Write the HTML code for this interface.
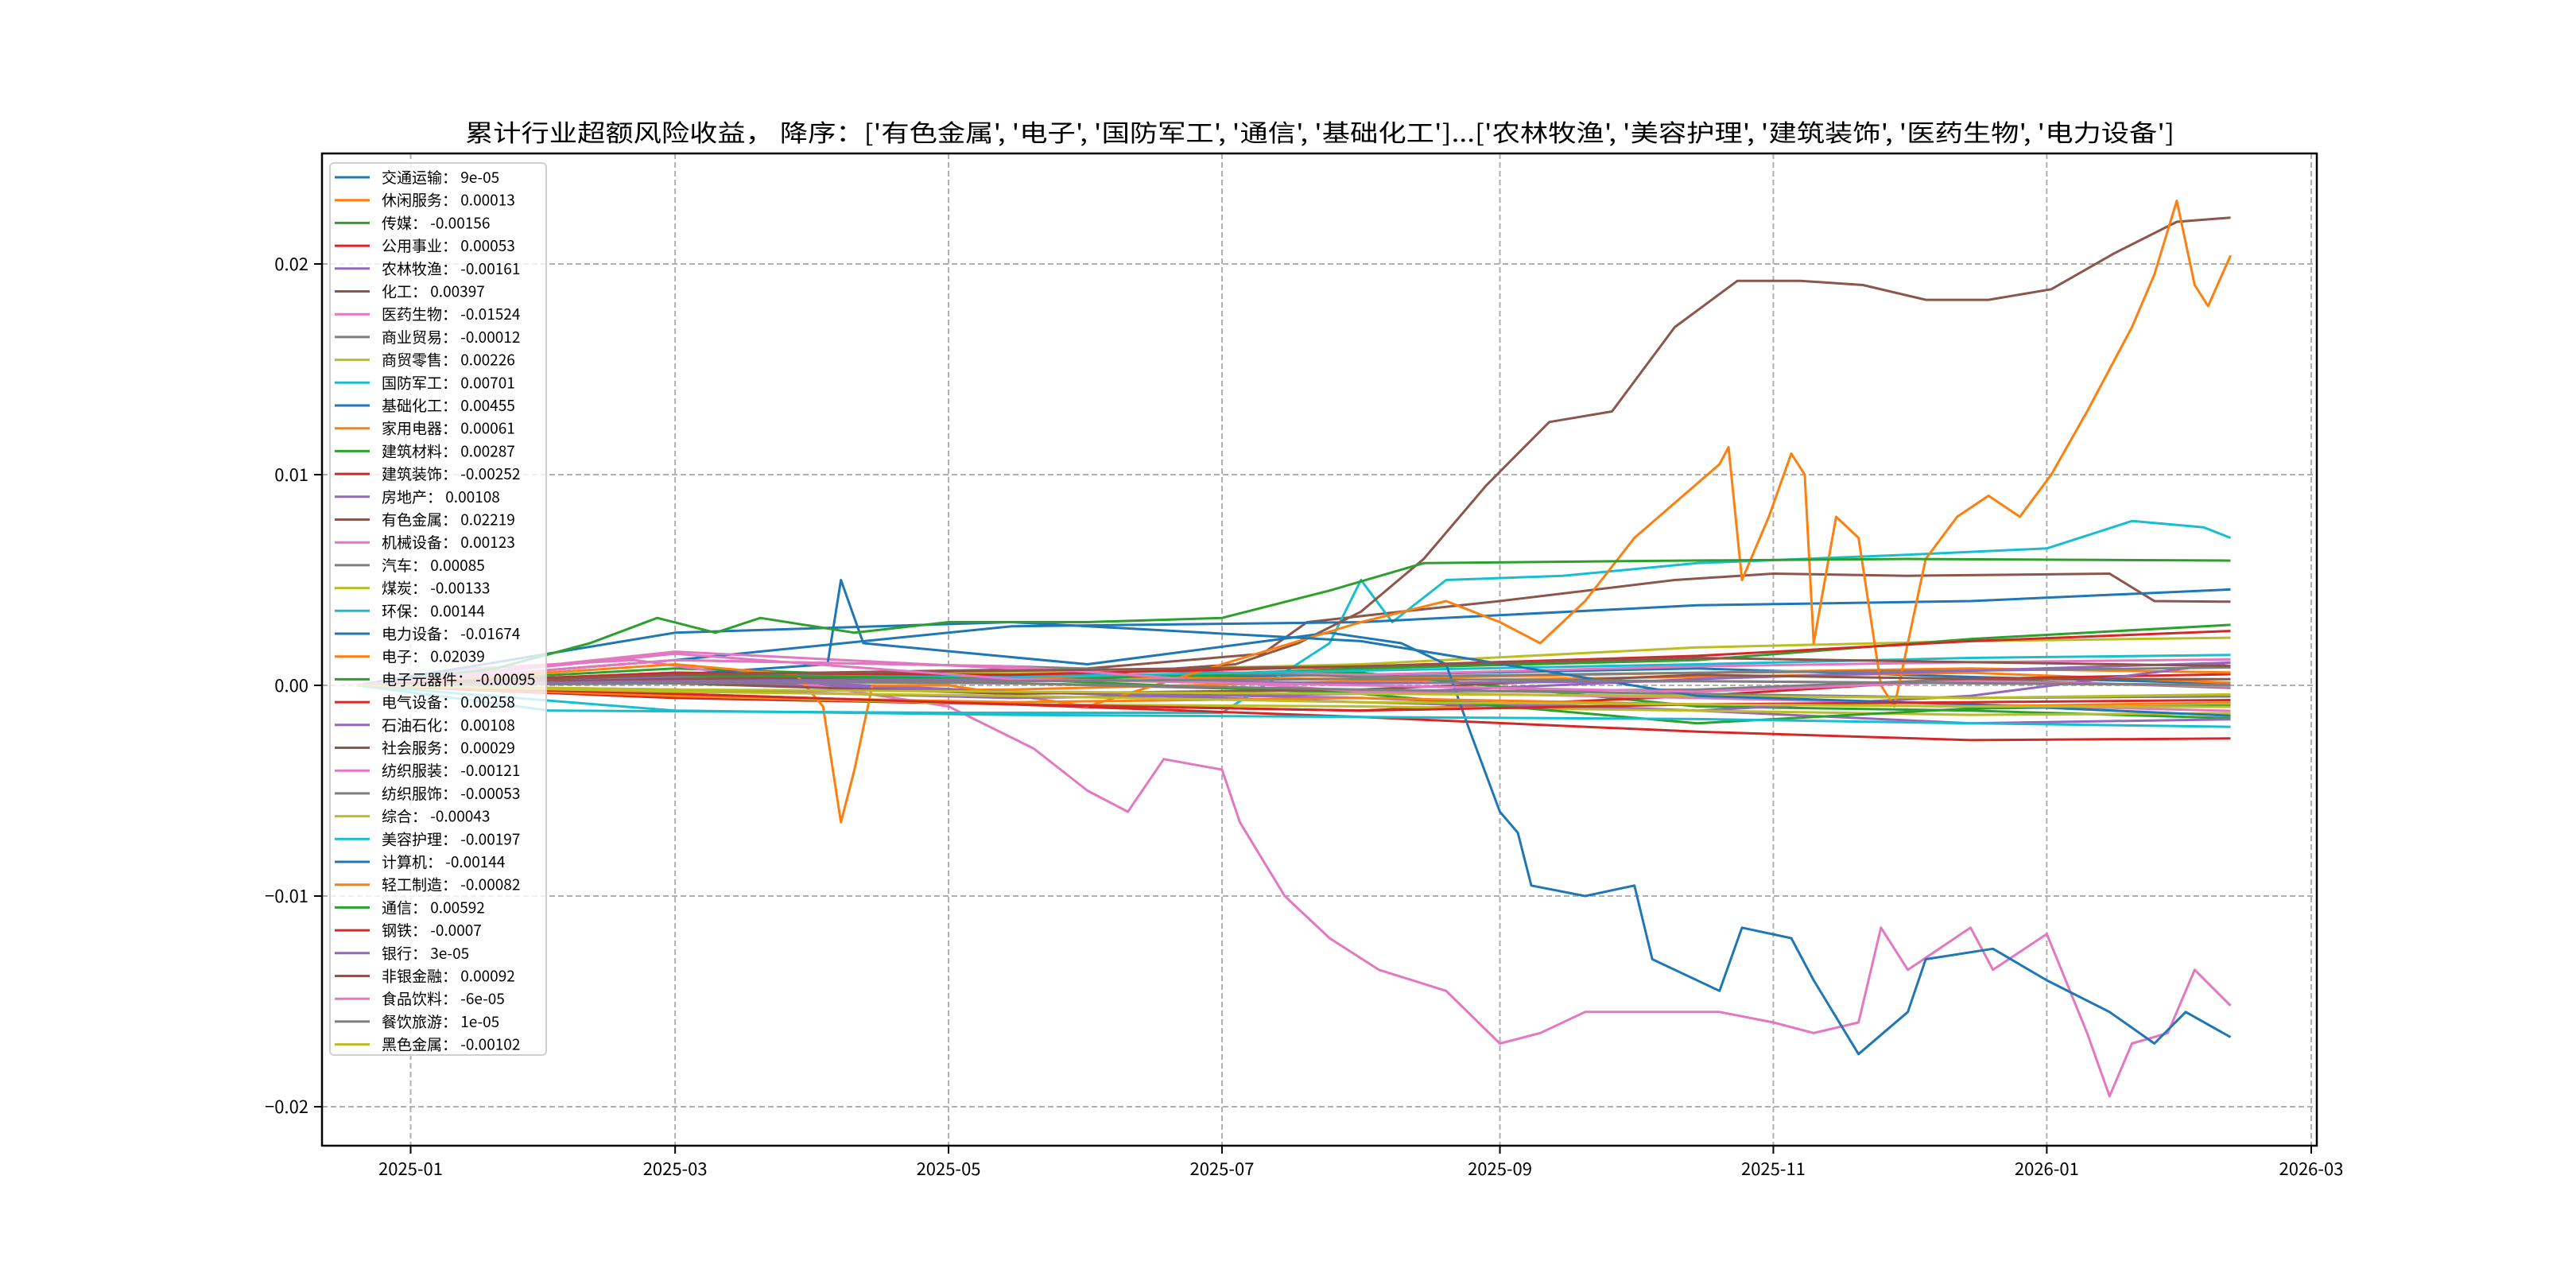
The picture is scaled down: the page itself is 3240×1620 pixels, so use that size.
<!DOCTYPE html>
<html><head><meta charset="utf-8">
<style>
html,body{margin:0;padding:0;background:#fff;}
svg{display:block;font-family:"WenQuanYi Zen Hei","Noto Sans CJK SC",sans-serif;}
</style></head>
<body>
<svg id="chart" width="3240" height="1620" viewBox="0 0 3240 1620" xmlns="http://www.w3.org/2000/svg">
<rect width="3240" height="1620" fill="#fff"/>
<text x="1660" y="178" text-anchor="middle" font-size="30" textLength="2150" lengthAdjust="spacingAndGlyphs" fill="#000">累计行业超额风险收益，  降序：['有色金属', '电子', '国防军工', '通信', '基础化工']...['农林牧渔', '美容护理', '建筑装饰', '医药生物', '电力设备']</text>
<g id="grid"></g>
<g id="series" clip-path="url(#clip)"></g>
<defs><clipPath id="clip"><rect x="405" y="193" width="2509" height="1248"/></clipPath></defs>
<rect x="405" y="193" width="2509" height="1248" fill="none" stroke="#000" stroke-width="2.5"/>
<g id="axes"></g>
<g id="legend"></g>
</svg>
<script>
const yTicks = [0.02, 0.01, 0, -0.01, -0.02];
const yTickLabels = ['0.02', '0.01', '0.00', '\u22120.01', '\u22120.02'];
const xTicks = ['2025-01-01','2025-03-01','2025-05-01','2025-07-01','2025-09-01','2025-11-01','2026-01-01','2026-03-01'];
const xTickLabels = ['2025-01','2025-03','2025-05','2025-07','2025-09','2025-11','2026-01','2026-03'];
const seriesNames = ['交通运输','休闲服务','传媒','公用事业','农林牧渔','化工','医药生物','商业贸易','商贸零售','国防军工','基础化工','家用电器','建筑材料','建筑装饰','房地产','有色金属','机械设备','汽车','煤炭','环保','电力设备','电子','电子元器件','电气设备','石油石化','社会服务','纺织服装','纺织服饰','综合','美容护理','计算机','轻工制造','通信','钢铁','银行','非银金融','食品饮料','餐饮旅游','黑色金属'];
const finalLabels = ['9e-05','0.00013','-0.00156','0.00053','-0.00161','0.00397','-0.01524','-0.00012','0.00226','0.00701','0.00455','0.00061','0.00287','-0.00252','0.00108','0.02219','0.00123','0.00085','-0.00133','0.00144','-0.01674','0.02039','-0.00095','0.00258','0.00108','0.00029','-0.00121','-0.00053','-0.00043','-0.00197','-0.00144','-0.00082','0.00592','-0.0007','3e-05','0.00092','-6e-05','1e-05','-0.00102'];
const palette = ['#1f77b4','#ff7f0e','#2ca02c','#d62728','#9467bd','#8c564b','#e377c2','#7f7f7f','#bcbd22','#17becf'];

const datesMinor = ['2024-12-20','2025-03-01','2025-05-15','2025-08-01','2025-10-15','2025-12-15','2026-02-11'];
const v交通运输 = [0,0.0004,0.0003,0.0005,0.0008,0.0004,0.00009];
const v休闲服务 = [0,-0.0003,-0.0002,0.0002,0.0004,0.0006,0.00013];
const v传媒 = [0,0.0008,0.0003,0.0006,-0.001,-0.0012,-0.00156];
const v公用事业 = [0,-0.0006,-0.0009,-0.0012,-0.0005,0.0003,0.00053];
const v农林牧渔 = [0,0.0002,-0.0003,-0.0006,-0.0012,-0.0018,-0.00161];
const v商业贸易 = [0,0.0002,0.0001,-0.0003,-0.0002,0.0003,-0.00012];
const v商贸零售 = [0,0.0003,0.0006,0.001,0.0018,0.0021,0.00226];
const v基础化工 = [0,0.0012,0.0028,0.003,0.0038,0.004,0.00455];
const v家用电器 = [0,0.0006,0.0004,0.0003,0.0006,0.0008,0.00061];
const v建筑材料 = [0,0.0004,0.0002,0.0008,0.0012,0.0022,0.00287];
const v建筑装饰 = [0,-0.0004,-0.0009,-0.0015,-0.0022,-0.0026,-0.00252];
const v房地产 = [0,0.0004,-0.0003,-0.0008,-0.0012,-0.0005,0.00108];
const v机械设备 = [0,0.0016,0.0008,0.0005,0.0009,0.0011,0.00123];
const v汽车 = [0,0.0012,0.0009,0.0004,0.0006,0.0007,0.00085];
const v煤炭 = [0,-0.0005,-0.0009,-0.001,-0.0012,-0.0014,-0.00133];
const v环保 = [0,0.0006,0.0004,0.0007,0.001,0.0013,0.00144];
const v电子元器件 = [0,0.0005,0.0003,-0.0004,-0.0018,-0.0011,-0.00095];
const v电气设备 = [0,0.0006,0.0005,0.0009,0.0014,0.0021,0.00258];
const v石油石化 = [0,-0.0002,-0.0006,-0.0004,0.0003,0.0007,0.00108];
const v社会服务 = [0,0.0001,-0.0004,-0.0002,0.0005,0.0003,0.00029];
const v纺织服装 = [0,0.0012,0.0009,-0.0003,-0.0006,-0.0009,-0.00121];
const v纺织服饰 = [0,0.0002,0.0001,-0.0002,-0.0004,-0.0006,-0.00053];
const v综合 = [0,-0.0002,-0.0003,-0.0004,-0.0005,-0.0006,-0.00043];
const v美容护理 = [0,-0.0012,-0.0014,-0.0015,-0.0016,-0.0018,-0.00197];
const v计算机 = [0,0.0025,0.003,0.0021,-0.0005,-0.0009,-0.00144];
const v轻工制造 = [0,-0.0005,-0.0008,-0.0006,-0.0009,-0.001,-0.00082];
const v钢铁 = [0,-0.0004,-0.0009,-0.0012,-0.0009,-0.0008,-0.0007];
const v银行 = [0,0.0002,0.0003,0.0001,0.0002,0.0001,0.00003];
const v非银金融 = [0,0.0005,0.0007,0.0009,0.0013,0.0011,0.00092];
const v食品饮料 = [0,0.0015,0.0003,0,-0.0003,0.0002,-0.00006];
const v餐饮旅游 = [0,0.0001,0.0002,0.0003,0.0002,0.0001,0.00001];
const v黑色金属 = [0,-0.0003,-0.0005,-0.0008,-0.0009,-0.001,-0.00102];

const d化工 = ['2024-12-20','2025-03-01','2025-06-01','2025-07-10','2025-07-20','2025-08-10','2025-09-01','2025-10-10','2025-11-01','2025-12-01','2026-01-15','2026-01-25','2026-02-11'];
const v化工 = [0,0.0005,0.0008,0.0015,0.003,0.0035,0.004,0.005,0.0053,0.0052,0.0053,0.004,0.00397];

const d有色金属 = ['2024-12-20','2025-03-01','2025-06-01','2025-07-04','2025-07-18','2025-08-01','2025-08-15','2025-08-29','2025-09-12','2025-09-26','2025-10-10','2025-10-24','2025-11-07','2025-11-21','2025-12-05','2025-12-19','2026-01-02','2026-01-16','2026-01-30','2026-02-11'];
const v有色金属 = [0,0.0003,0.0005,0.001,0.002,0.0035,0.006,0.0095,0.0125,0.013,0.017,0.0192,0.0192,0.019,0.0183,0.0183,0.0188,0.0205,0.022,0.0222];

const d电子 = ['2024-12-20','2025-03-01','2025-03-28','2025-04-03','2025-04-07','2025-04-10','2025-04-14','2025-05-01','2025-06-01','2025-07-01','2025-08-01','2025-08-20','2025-09-01','2025-09-10','2025-09-20','2025-10-01','2025-10-20','2025-10-22','2025-10-25','2025-10-31','2025-11-05','2025-11-08','2025-11-10','2025-11-15','2025-11-20','2025-11-25','2025-11-28','2025-12-05','2025-12-12','2025-12-19','2025-12-26','2026-01-02','2026-01-10','2026-01-20','2026-01-25','2026-01-30','2026-02-03','2026-02-06','2026-02-11'];
const v电子 = [0,0.001,0.0005,-0.001,-0.0065,-0.004,0,0,-0.001,0.001,0.003,0.004,0.003,0.002,0.004,0.007,0.0105,0.0113,0.005,0.008,0.011,0.01,0.002,0.008,0.007,0,-0.001,0.006,0.008,0.009,0.008,0.01,0.013,0.017,0.0195,0.023,0.019,0.018,0.0204];

const d电力设备 = ['2024-12-20','2025-03-01','2025-04-04','2025-04-07','2025-04-12','2025-06-01','2025-07-25','2025-08-10','2025-08-20','2025-08-25','2025-09-01','2025-09-05','2025-09-08','2025-09-20','2025-10-01','2025-10-05','2025-10-20','2025-10-25','2025-11-05','2025-11-10','2025-11-20','2025-12-01','2025-12-05','2025-12-20','2026-01-01','2026-01-15','2026-01-25','2026-02-01','2026-02-11'];
const v电力设备 = [0,0.0005,0.001,0.005,0.002,0.001,0.0025,0.002,0.001,-0.002,-0.006,-0.007,-0.0095,-0.01,-0.0095,-0.013,-0.0145,-0.0115,-0.012,-0.014,-0.0175,-0.0155,-0.013,-0.0125,-0.014,-0.0155,-0.017,-0.0155,-0.0167];

const d医药生物 = ['2024-12-20','2025-01-15','2025-02-20','2025-04-01','2025-05-01','2025-05-20','2025-06-01','2025-06-10','2025-06-18','2025-07-01','2025-07-05','2025-07-15','2025-07-25','2025-08-05','2025-08-20','2025-09-01','2025-09-10','2025-09-20','2025-10-01','2025-10-20','2025-11-01','2025-11-10','2025-11-20','2025-11-25','2025-12-01','2025-12-15','2025-12-20','2026-01-01','2026-01-10','2026-01-15','2026-01-20','2026-01-28','2026-02-03','2026-02-11'];
const v医药生物 = [0,0.0008,0.0012,0,-0.001,-0.003,-0.005,-0.006,-0.0035,-0.004,-0.0065,-0.01,-0.012,-0.0135,-0.0145,-0.017,-0.0165,-0.0155,-0.0155,-0.0155,-0.016,-0.0165,-0.016,-0.0115,-0.0135,-0.0115,-0.0135,-0.0118,-0.0165,-0.0195,-0.017,-0.0165,-0.0135,-0.0152];

const d国防军工 = ['2024-12-20','2025-02-01','2025-05-01','2025-07-01','2025-07-25','2025-08-01','2025-08-08','2025-08-20','2025-09-15','2025-10-15','2025-12-01','2026-01-01','2026-01-20','2026-02-05','2026-02-11'];
const v国防军工 = [0,-0.0012,-0.0013,-0.0013,0.002,0.005,0.003,0.005,0.0052,0.0058,0.0062,0.0065,0.0078,0.0075,0.007];

const d通信 = ['2024-12-20','2025-01-20','2025-02-10','2025-02-25','2025-03-10','2025-03-20','2025-04-10','2025-05-01','2025-06-01','2025-07-01','2025-07-25','2025-08-15','2025-10-01','2025-12-01','2026-02-11'];
const v通信 = [0,0.0008,0.002,0.0032,0.0025,0.0032,0.0025,0.003,0.003,0.0032,0.0045,0.0058,0.0059,0.006,0.00592];

const seriesDates = {'化工':d化工,'有色金属':d有色金属,'电子':d电子,'电力设备':d电力设备,'医药生物':d医药生物,'国防军工':d国防军工,'通信':d通信};
const seriesValues = {'交通运输':v交通运输,'休闲服务':v休闲服务,'传媒':v传媒,'公用事业':v公用事业,'农林牧渔':v农林牧渔,'化工':v化工,'医药生物':v医药生物,'商业贸易':v商业贸易,'商贸零售':v商贸零售,'国防军工':v国防军工,'基础化工':v基础化工,'家用电器':v家用电器,'建筑材料':v建筑材料,'建筑装饰':v建筑装饰,'房地产':v房地产,'有色金属':v有色金属,'机械设备':v机械设备,'汽车':v汽车,'煤炭':v煤炭,'环保':v环保,'电力设备':v电力设备,'电子':v电子,'电子元器件':v电子元器件,'电气设备':v电气设备,'石油石化':v石油石化,'社会服务':v社会服务,'纺织服装':v纺织服装,'纺织服饰':v纺织服饰,'综合':v综合,'美容护理':v美容护理,'计算机':v计算机,'轻工制造':v轻工制造,'通信':v通信,'钢铁':v钢铁,'银行':v银行,'非银金融':v非银金融,'食品饮料':v食品饮料,'餐饮旅游':v餐饮旅游,'黑色金属':v黑色金属};

const NS = 'http://www.w3.org/2000/svg';
const X0 = 516.5, PXDAY = 5.638, Y0 = 862, PXUNIT = 26500;
const BASE = Date.UTC(2025,0,1);
function xScale(d){ const p=d.split('-'); const t=Date.UTC(+p[0],+p[1]-1,+p[2]); return X0 + (t-BASE)/86400000*PXDAY; }
function yScale(v){ return Y0 - v*PXUNIT; }
function mk(tag, attrs, parent){ const e=document.createElementNS(NS,tag); for(const k in attrs) e.setAttribute(k,attrs[k]); parent.appendChild(e); return e; }

const grid=document.getElementById('grid'), axes=document.getElementById('axes');
yTicks.forEach((v,i)=>{
  const y=yScale(v);
  const gl=mk('line',{x1:405,x2:2914,y1:y,y2:y,stroke:'#b0b0b0','stroke-width':2,'stroke-dasharray':'7,4'},grid);
  
  
  const tk=mk('line',{x1:395,x2:405,y1:y,y2:y,stroke:'#000','stroke-width':2},axes);
  
  
  const t=mk('text',{x:388,y:y+8,'text-anchor':'end','font-size':22,fill:'#000'},axes);
  t.textContent=yTickLabels[i];
  
  
});
xTicks.forEach((d,i)=>{
  const x=xScale(d);
  const gl=mk('line',{x1:x,x2:x,y1:193,y2:1441,stroke:'#b0b0b0','stroke-width':2,'stroke-dasharray':'7,4'},grid);
  
  
  const tk=mk('line',{x1:x,x2:x,y1:1441,y2:1451,stroke:'#000','stroke-width':2},axes);
  
  
  const t=mk('text',{x:x,y:1478,'text-anchor':'middle','font-size':22,fill:'#000'},axes);
  t.textContent=xTickLabels[i];
  
  
});

const sg=document.getElementById('series');
seriesNames.forEach((n,i)=>{
  const ds=seriesDates[n]||datesMinor, vs=seriesValues[n];
  const pts=vs.map((v,j)=>xScale(ds[j]).toFixed(1)+','+yScale(v).toFixed(1)).join(' ');
  const pl=mk('polyline',{points:pts,fill:'none',stroke:palette[i%10],'stroke-width':3,'stroke-linejoin':'round'},sg);
  
  
});

const lg=document.getElementById('legend');
const box=mk('rect',{x:415,y:205,width:272,height:1122,rx:5,fill:'#fff','fill-opacity':0.8,stroke:'#d0d0d0','stroke-width':2},lg);


seriesNames.forEach((n,i)=>{
  const y=223+i*28.7;
  const ln=mk('line',{x1:421,x2:465,y1:y,y2:y,stroke:palette[i%10],'stroke-width':3},lg);
  
  
  const t=mk('text',{x:480,y:y+7,'font-size':19,fill:'#000'},lg);
  t.textContent=n+'： '+finalLabels[i];
  
  
});
</script>
</body></html>
